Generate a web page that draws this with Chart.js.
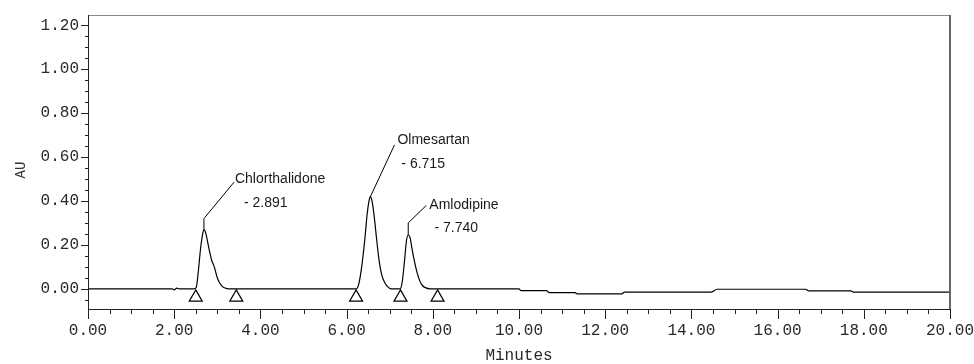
<!DOCTYPE html>
<html>
<head>
<meta charset="utf-8">
<script src="https://cdn.jsdelivr.net/npm/chart.js@4/dist/chart.umd.min.js"></script>
<style>
  html, body { margin: 0; padding: 0; background: #ffffff; }
  #wrap { width: 974px; height: 364px; }
</style>
</head>
<body>
<div id="wrap"><canvas id="c" width="974" height="364"></canvas></div>
<script>
// ---- Data ----
const traceTime = [0, 1.95, 2.00, 2.06, 2.12, 2.45,
  2.51, 2.56, 2.61, 2.66, 2.69, 2.73, 2.81, 2.87, 2.93, 3.00, 3.06, 3.12, 3.20, 3.26,
  6.22, 6.28, 6.35, 6.42, 6.48, 6.52, 6.55, 6.59, 6.64, 6.70, 6.76, 6.82, 6.88, 6.95, 7.03,
  7.24, 7.29, 7.34, 7.39, 7.43, 7.47, 7.52, 7.58, 7.64, 7.70, 7.76, 7.84, 7.94,
  10.00, 10.04, 10.64, 10.70, 11.30, 11.35, 12.38, 12.45, 14.45, 14.60, 16.65, 16.72, 17.70, 17.76, 20.00];
const traceAU = [0, 0, -0.005, 0.003, 0, 0,
  0.005, 0.08, 0.18, 0.25, 0.27, 0.255, 0.18, 0.13, 0.10, 0.05, 0.025, 0.01, 0.002, 0,
  0, 0.02, 0.10, 0.22, 0.345, 0.40, 0.42, 0.40, 0.33, 0.22, 0.12, 0.06, 0.03, 0.01, 0,
  0, 0.03, 0.12, 0.22, 0.245, 0.235, 0.18, 0.12, 0.07, 0.035, 0.015, 0.004, 0,
  0, -0.008, -0.008, -0.017, -0.017, -0.023, -0.023, -0.015, -0.015, -0.002, -0.002, -0.009, -0.009, -0.015, -0.015];

// integration markers (open triangles under the baseline)
const markerTime = [2.50, 3.44, 6.22, 7.25, 8.11];
const markerAU = [-0.039, -0.039, -0.039, -0.039, -0.039];

// peak annotations
const peakNames = ['Chlorthalidone', 'Olmesartan', 'Amlodipine'];
const peakRT = ['- 2.891', '- 6.715', '- 7.740'];
const pointerTime = [[2.69, 2.69, 3.39], [6.55, 6.57, 7.11], [7.43, 7.43, 7.85]];
const pointerAU = [[0.27, 0.32, 0.486], [0.42, 0.427, 0.655], [0.245, 0.30, 0.38]];
const nameAt = [[3.41, 0.50], [7.18, 0.678], [7.92, 0.382]];
const rtAt = [[3.62, 0.39], [7.27, 0.568], [8.04, 0.277]];

// axes
const xMin = 0, xMax = 20, xStep = 0.5, xLabelEvery = 2;
const yMin = -0.092, yMax = 1.247, yStep = 0.05, yLabelEvery = 0.2;
const xTitle = 'Minutes';
const yTitle = 'AU';

// ---- build chart ----
const isMult = (v, m) => Math.abs(v / m - Math.round(v / m)) < 1e-6;
const tickFont = { family: '"Liberation Mono", "DejaVu Sans Mono", monospace', size: 16 };

const datasets = [];
datasets.push({
  type: 'line', label: 'trace',
  data: traceTime.map((t, i) => ({ x: t, y: traceAU[i] })),
  borderColor: '#000', borderWidth: 1.2, pointRadius: 0,
  cubicInterpolationMode: 'monotone', order: 1
});
pointerTime.forEach((arr, k) => {
  datasets.push({
    type: 'line', label: 'pointer' + k,
    data: arr.map((t, i) => ({ x: t, y: pointerAU[k][i] })),
    borderColor: '#000', borderWidth: 1, pointRadius: 0, tension: 0, order: 2
  });
});
datasets.push({
  type: 'scatter', label: 'markers',
  data: markerTime.map((t, i) => ({ x: t, y: markerAU[i] })),
  pointStyle: 'triangle', pointRadius: 7.5, pointBackgroundColor: '#fff',
  pointBorderColor: '#000', pointBorderWidth: 1.2, order: 3
});

const decor = {
  id: 'decor',
  afterDraw(chart) {
    const { ctx, chartArea: a, scales: { x, y } } = chart;
    ctx.save();
    // minor/major ticks
    ctx.strokeStyle = '#222'; ctx.lineWidth = 1;
    ctx.beginPath();
    x.ticks.forEach(t => {
      const px = Math.round(x.getPixelForValue(t.value)) + 0.5;
      const len = isMult(t.value, xLabelEvery) ? 10 : 5;
      ctx.moveTo(px, a.bottom); ctx.lineTo(px, a.bottom + len);
    });
    y.ticks.forEach(t => {
      const py = Math.round(y.getPixelForValue(t.value)) + 0.5;
      const len = isMult(t.value, yLabelEvery) ? 7 : 3;
      ctx.moveTo(a.left, py); ctx.lineTo(a.left - len, py);
    });
    ctx.stroke();
    // frame
    ctx.strokeStyle = '#888'; ctx.lineWidth = 1;
    ctx.beginPath(); ctx.moveTo(a.left, a.top + 0.5); ctx.lineTo(a.right, a.top + 0.5); ctx.stroke();
    ctx.strokeStyle = '#666'; ctx.lineWidth = 2;
    ctx.beginPath(); ctx.moveTo(a.right, a.top); ctx.lineTo(a.right, a.bottom); ctx.stroke();
    ctx.strokeStyle = '#222'; ctx.lineWidth = 1;
    ctx.beginPath();
    ctx.moveTo(a.left + 0.5, a.top); ctx.lineTo(a.left + 0.5, a.bottom + 0.5);
    ctx.lineTo(a.right, a.bottom + 0.5);
    ctx.stroke();
    // peak labels
    ctx.fillStyle = '#1a1a1a';
    ctx.font = '14px "Liberation Sans", Arial, sans-serif';
    ctx.textBaseline = 'middle'; ctx.textAlign = 'left';
    peakNames.forEach((n, k) => {
      ctx.fillText(n, x.getPixelForValue(nameAt[k][0]), y.getPixelForValue(nameAt[k][1]));
      ctx.fillText(peakRT[k], x.getPixelForValue(rtAt[k][0]), y.getPixelForValue(rtAt[k][1]));
    });
    // y title
    ctx.font = '14px "Liberation Mono", monospace';
    ctx.fillStyle = '#333';
    ctx.translate(21, 170);
    ctx.rotate(-Math.PI / 2);
    ctx.textAlign = 'center';
    ctx.fillText(yTitle, 0, 0);
    ctx.restore();
  }
};

new Chart(document.getElementById('c'), {
  data: { datasets },
  options: {
    responsive: false, animation: false,
    layout: { padding: { left: 0, top: 15, right: 24, bottom: 0 } },
    plugins: { legend: { display: false }, tooltip: { enabled: false }, title: { display: false } },
    scales: {
      x: {
        type: 'linear', min: xMin, max: xMax,
        afterFit(s) { s.height = 55; s.paddingLeft = 0; s.paddingRight = 0; },
        ticks: {
          stepSize: xStep, autoSkip: false, maxRotation: 0, includeBounds: false,
          color: '#2a2a2a', font: tickFont, padding: 6,
          callback: v => isMult(v, xLabelEvery) ? v.toFixed(2) : ''
        },
        grid: { drawOnChartArea: false, tickLength: 6, tickColor: 'rgba(0,0,0,0)' },
        border: { display: false },
        title: { display: true, text: xTitle, color: '#2a2a2a', font: { ...tickFont, lineHeight: 1 }, padding: { top: 0, bottom: 0 } }
      },
      y: {
        type: 'linear', min: yMin, max: yMax,
        afterFit(s) { s.width = 88; s.paddingTop = 0; s.paddingBottom = 0; },
        ticks: {
          stepSize: yStep, autoSkip: false, includeBounds: false,
          color: '#2a2a2a', font: tickFont, padding: 2,
          callback: v => isMult(v, yLabelEvery) ? v.toFixed(2) : ''
        },
        grid: { drawOnChartArea: false, tickLength: 7, tickColor: 'rgba(0,0,0,0)' },
        border: { display: false }
      }
    }
  },
  plugins: [decor]
});
</script>
</body>
</html>
